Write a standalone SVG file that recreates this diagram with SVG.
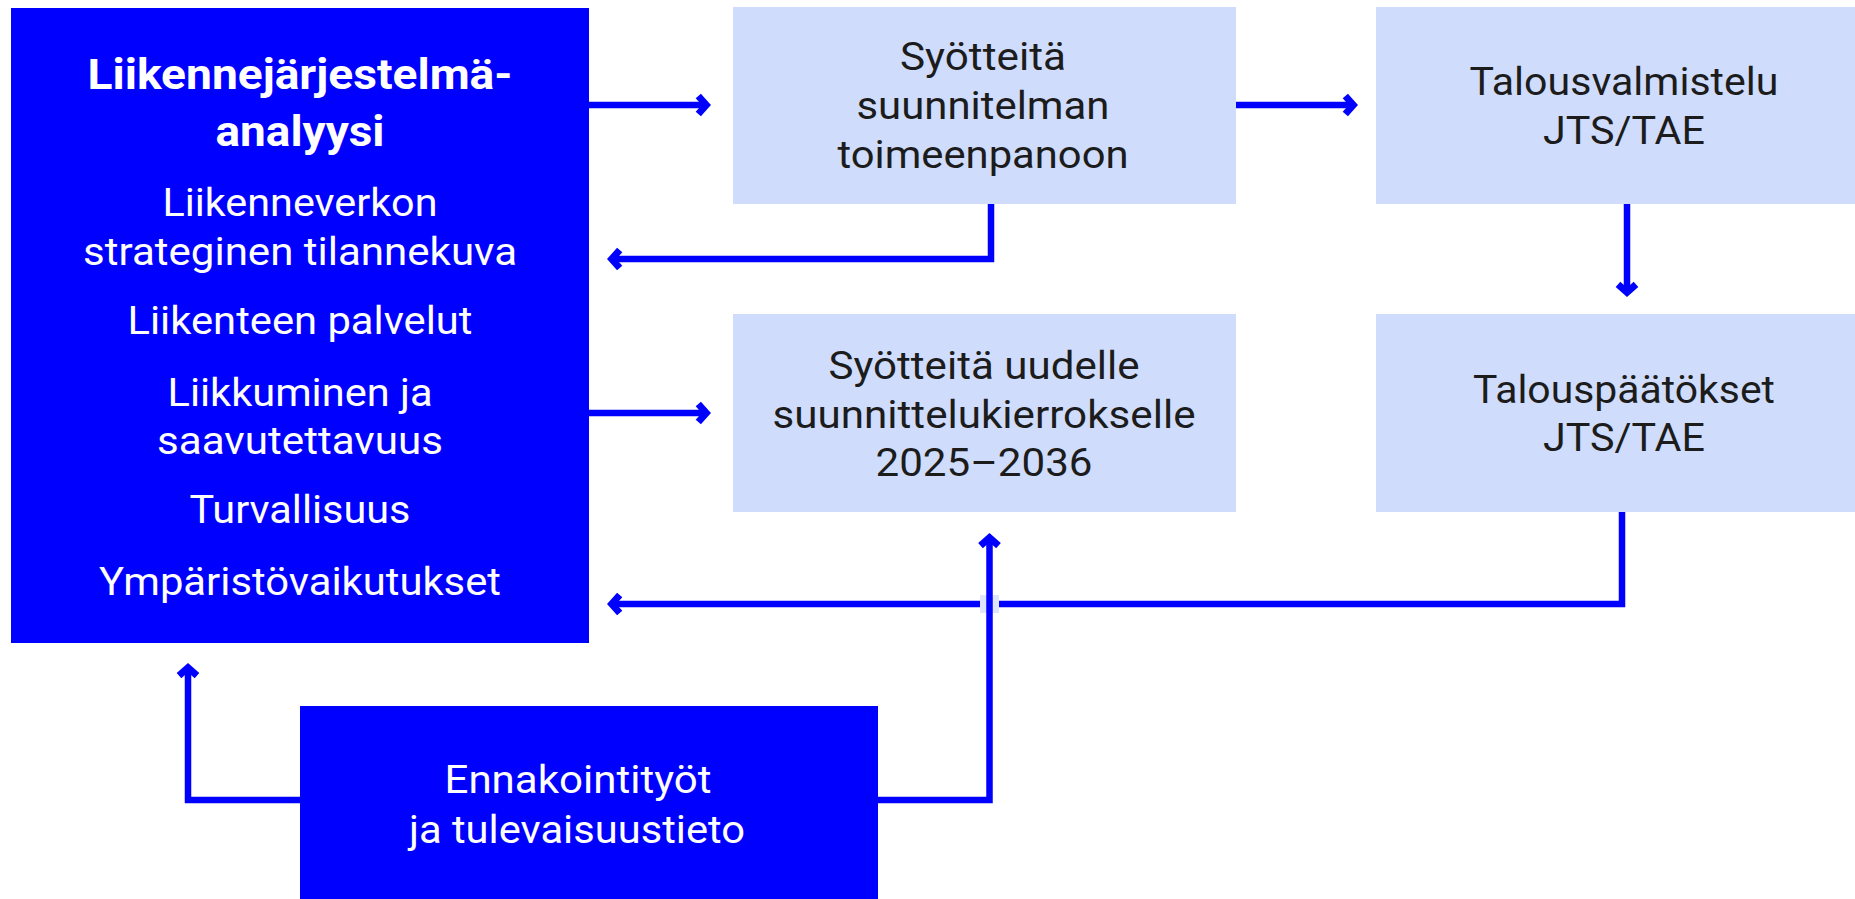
<svg xmlns="http://www.w3.org/2000/svg" width="1855" height="899" viewBox="0 0 1855 899">
<style>
.dark{fill:#0000ff}
.light{fill:#d0dcfc}
text{font-family:Roboto,"Liberation Sans",sans-serif;text-anchor:middle}
.w{fill:#ffffff;font-size:38px}
.wb{fill:#ffffff;font-size:43px;font-weight:bold}
.k{fill:#1c1c1c;font-size:38px}
.c{fill:none;stroke:#0000ff;stroke-width:6.5;stroke-linejoin:miter;stroke-linecap:butt}
</style>
<defs>
<marker id="ah" markerUnits="userSpaceOnUse" markerWidth="40" markerHeight="40" viewBox="-20 -20 40 40" refX="-0.3" refY="0" orient="auto">
<path d="M-8,-9 L0,0 L-8,9" fill="none" stroke="#0000ff" stroke-width="7" stroke-linejoin="miter"/>
</marker>
</defs>
<rect width="1855" height="899" fill="#ffffff"/>
<g id="connectors">
<path class="c" d="M589,105 H706" marker-end="url(#ah)"/>
<path class="c" d="M1236,105 H1353" marker-end="url(#ah)"/>
<path class="c" d="M991,204 V259 H612" marker-end="url(#ah)"/>
<path class="c" d="M1627,204 V292" marker-end="url(#ah)"/>
<path class="c" d="M589,413 H706" marker-end="url(#ah)"/>
<path class="c" d="M1622,512 V604 H612" marker-end="url(#ah)"/>
<path class="c" d="M300,800 H188 V668" marker-end="url(#ah)"/>
<rect x="980" y="595" width="19" height="18" fill="#dfe3fb"/>
<path class="c" d="M878,800 H989.5 V538" marker-end="url(#ah)"/>
</g>
<g id="analyysi">
<rect class="dark" x="11" y="8" width="578" height="635"/>
<text class="wb" x="300" y="89" textLength="425" lengthAdjust="spacingAndGlyphs">Liikennejärjestelmä-</text>
<text class="wb" x="300" y="146" textLength="169" lengthAdjust="spacingAndGlyphs">analyysi</text>
<text class="w" x="300" y="216" textLength="275" lengthAdjust="spacingAndGlyphs">Liikenneverkon</text>
<text class="w" x="300" y="265" textLength="434" lengthAdjust="spacingAndGlyphs">strateginen tilannekuva</text>
<text class="w" x="300" y="334" textLength="345" lengthAdjust="spacingAndGlyphs">Liikenteen palvelut</text>
<text class="w" x="300" y="406" textLength="265" lengthAdjust="spacingAndGlyphs">Liikkuminen ja</text>
<text class="w" x="300" y="454" textLength="286" lengthAdjust="spacingAndGlyphs">saavutettavuus</text>
<text class="w" x="300" y="523" textLength="221" lengthAdjust="spacingAndGlyphs">Turvallisuus</text>
<text class="w" x="300" y="595" textLength="402" lengthAdjust="spacingAndGlyphs">Ympäristövaikutukset</text>
</g>
<g id="toimeenpano">
<rect class="light" x="733" y="7" width="503" height="197"/>
<text class="k" x="983" y="70" textLength="166" lengthAdjust="spacingAndGlyphs">Syötteitä</text>
<text class="k" x="983" y="119" textLength="253" lengthAdjust="spacingAndGlyphs">suunnitelman</text>
<text class="k" x="983" y="168" textLength="291" lengthAdjust="spacingAndGlyphs">toimeenpanoon</text>
</g>
<g id="talousvalmistelu">
<rect class="light" x="1376" y="7" width="479" height="197"/>
<text class="k" x="1624" y="95" textLength="309" lengthAdjust="spacingAndGlyphs">Talousvalmistelu</text>
<text class="k" x="1624" y="144" textLength="162" lengthAdjust="spacingAndGlyphs">JTS/TAE</text>
</g>
<g id="uusi-kierros">
<rect class="light" x="733" y="314" width="503" height="198"/>
<text class="k" x="984" y="379" textLength="311" lengthAdjust="spacingAndGlyphs">Syötteitä uudelle</text>
<text class="k" x="984" y="428" textLength="423" lengthAdjust="spacingAndGlyphs">suunnittelukierrokselle</text>
<text class="k" x="984" y="476" textLength="217" lengthAdjust="spacingAndGlyphs">2025–2036</text>
</g>
<g id="talouspaatokset">
<rect class="light" x="1376" y="314" width="479" height="198"/>
<text class="k" x="1624" y="403" textLength="302" lengthAdjust="spacingAndGlyphs">Talouspäätökset</text>
<text class="k" x="1624" y="451" textLength="162" lengthAdjust="spacingAndGlyphs">JTS/TAE</text>
</g>
<g id="ennakointi">
<rect class="dark" x="300" y="706" width="578" height="193"/>
<text class="w" x="578" y="793" textLength="267" lengthAdjust="spacingAndGlyphs">Ennakointityöt</text>
<text class="w" x="577" y="843" textLength="336" lengthAdjust="spacingAndGlyphs">ja tulevaisuustieto</text>
</g>
</svg>
